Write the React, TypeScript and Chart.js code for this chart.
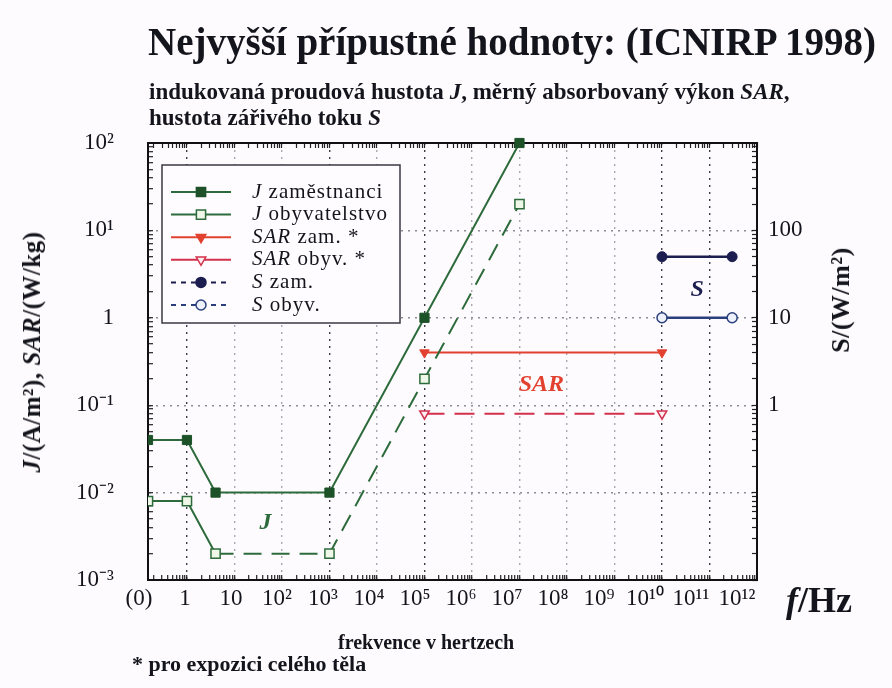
import React, { useEffect, useRef } from 'react';
import { Chart, registerables } from 'chart.js';

Chart.register(...registerables);

// ---------- data ----------
// frequencies in Hz; 0 stands for the "(0)" position at the left edge of the axis
const jFreq = [0, 1, 4, 1e3, 1e5, 1e7];
const jOccupational = [0.04, 0.04, 0.01, 0.01, 1, 100];
const jPublic = [0.008, 0.008, 0.002, 0.002, 0.2, 20];
const sarFreq = [1e5, 1e10];
const sarOccupational = [0.4, 0.4];
const sarPublic = [0.08, 0.08];
const sFreq = [1e10, 3e11];
const sOccupational = [50, 50];
const sPublic = [10, 10];

const legendLabels = ['J zaměstnanci', 'J obyvatelstvo', 'SAR zam. *', 'SAR obyv. *', 'S zam.', 'S obyv.'];
const xTickLabels = ['(0)', '1', '10', '10²', '10³', '10⁴', '10⁵', '10⁶', '10⁷', '10⁸', '10⁹', '10¹⁰', '10¹¹', '10¹²'];
const yLeftTickLabels = ['10⁻³', '10⁻²', '10⁻¹', '1', '10¹', '10²']; // decades -3 … 2
const yRightTickValues = [1, 10, 100];
const yRightTickLabels = ['1', '10', '100'];

const annotationTexts = ['J', 'SAR', 'S'];
const annotationFreqs = [45, 2.9e7, 5.5e10];
const annotationValues = [0.0045, 0.17, 21];
const annotationAxes = ['y', 'y', 'yS'];

// ---------- styling ----------
const FONT = '"Liberation Serif", "Times New Roman", serif';
const INK = '#14141c';
const GREEN = '#2e6b3c';
const GREEN_DARK = '#1d5229';
const RED = '#e2412f';
const CRIMSON = '#d3304d';
const NAVY = '#1c1e50';
const BLUE = '#2b3f7f';
const annotationColors = [GREEN, RED, NAVY];

const X_ZERO = -0.82; // log10(f) position used for "(0)"
const X_MAX = 12;
const toX = (f: number) => (f === 0 ? X_ZERO : Math.log10(f));
const pts = (fs: number[], vs: number[]) => fs.map((f, i) => ({ x: toX(f), y: vs[i] }));

function exponentTicks(min: number, max: number) {
  const out: { value: number }[] = [];
  for (let n = Math.floor(min); n <= Math.ceil(max); n++) {
    for (let k = 1; k <= 9; k++) {
      const v = n + Math.log10(k);
      if (v >= min - 1e-9 && v <= max + 1e-9) out.push({ value: v });
    }
  }
  return out;
}
function logTicks(min: number, max: number) {
  const out: { value: number }[] = [];
  for (let n = Math.round(Math.log10(min)); n <= Math.round(Math.log10(max)); n++) {
    for (let k = 1; k <= 9; k++) {
      const v = k * Math.pow(10, n);
      if (v >= min * (1 - 1e-9) && v <= max * (1 + 1e-9)) out.push({ value: v });
    }
  }
  return out;
}
const isInt = (v: number) => Math.abs(v - Math.round(v)) < 1e-6;
const isDecade = (v: number) => v > 0 && isInt(Math.log10(v));

const darkVertical = [0, 3, 5, 10, 11];

function drawMarker(ctx: CanvasRenderingContext2D, style: string, x: number, y: number, r: number, fill: string, stroke: string) {
  ctx.save();
  ctx.fillStyle = fill;
  ctx.strokeStyle = stroke;
  ctx.lineWidth = 1.5;
  ctx.setLineDash([]);
  ctx.beginPath();
  if (style === 'rect') {
    const s = r * Math.SQRT1_2;
    ctx.rect(x - s, y - s, 2 * s, 2 * s);
  } else if (style === 'triangle') {
    ctx.moveTo(x - r * 0.87, y - r * 0.5);
    ctx.lineTo(x + r * 0.87, y - r * 0.5);
    ctx.lineTo(x, y + r);
    ctx.closePath();
  } else {
    ctx.arc(x, y, r, 0, Math.PI * 2);
  }
  ctx.fill();
  ctx.stroke();
  ctx.restore();
}

const legendPlugin = {
  id: 'boxLegend',
  afterDraw(chart: any) {
    const { ctx, chartArea } = chart;
    const x0 = chartArea.left + 14;
    const y0 = chartArea.top + 22;
    const w = 238;
    const h = 158;
    ctx.save();
    ctx.fillStyle = '#fefcfe';
    ctx.fillRect(x0, y0, w, h);
    ctx.strokeStyle = '#3a3a44';
    ctx.lineWidth = 1.5;
    ctx.strokeRect(x0, y0, w, h);
    chart.data.datasets.forEach((ds: any, i: number) => {
      const y = y0 + 27 + i * 22.6;
      ctx.save();
      ctx.strokeStyle = ds.borderColor;
      ctx.lineWidth = 2;
      ctx.setLineDash(ds.borderDash || []);
      ctx.beginPath();
      ctx.moveTo(x0 + 9, y);
      ctx.lineTo(x0 + 69, y);
      ctx.stroke();
      ctx.restore();
      drawMarker(ctx, ds.pointStyle, x0 + 39, y, typeof ds.pointRadius === 'number' ? ds.pointRadius : 5, ds.pointBackgroundColor, ds.pointBorderColor);
      const label: string = ds.label;
      const sp = label.indexOf(' ');
      const sym = label.slice(0, sp);
      const rest = label.slice(sp);
      ctx.save();
      ctx.fillStyle = INK;
      ctx.textBaseline = 'middle';
      ctx.textAlign = 'left';
      (ctx as any).letterSpacing = '1px';
      ctx.font = `italic 21px ${FONT}`;
      ctx.fillText(sym, x0 + 90, y);
      const sw = ctx.measureText(sym).width;
      ctx.font = `21px ${FONT}`;
      ctx.fillText(rest, x0 + 90 + sw, y);
      ctx.restore();
    });
    ctx.restore();
  },
};

const annotationPlugin = {
  id: 'textNotes',
  afterDatasetsDraw(chart: any) {
    const { ctx, scales } = chart;
    ctx.save();
    ctx.textAlign = 'center';
    ctx.textBaseline = 'middle';
    ctx.font = `italic bold 24px ${FONT}`;
    annotationTexts.forEach((t, i) => {
      const x = scales.x.getPixelForValue(toX(annotationFreqs[i]));
      const y = scales[annotationAxes[i]].getPixelForValue(annotationValues[i]);
      ctx.fillStyle = annotationColors[i];
      ctx.fillText(t, x, y);
    });
    ctx.restore();
  },
};

const tickFont = { family: FONT, size: 23 };
const clip = { left: 0, top: 8, right: 8, bottom: 8 };

function buildConfig(): any {
  return {
    type: 'line',
    data: {
      datasets: [
        {
          label: legendLabels[0], data: pts(jFreq, jOccupational), xAxisID: 'x', yAxisID: 'y',
          borderColor: GREEN, borderWidth: 2, borderDash: [], pointStyle: 'rect', pointRadius: 6.5,
          pointBackgroundColor: GREEN_DARK, pointBorderColor: GREEN_DARK, pointBorderWidth: 1, clip,
        },
        {
          label: legendLabels[1], data: pts(jFreq, jPublic), xAxisID: 'x', yAxisID: 'y',
          borderColor: GREEN, borderWidth: 2, borderDash: [], pointStyle: 'rect', pointRadius: 6.5,
          pointBackgroundColor: '#eef7e8', pointBorderColor: GREEN, pointBorderWidth: 1.5, clip,
          segment: { borderDash: (c: any) => (c.p0DataIndex >= 2 ? [18, 10] : []) },
        },
        {
          label: legendLabels[2], data: pts(sarFreq, sarOccupational), xAxisID: 'x', yAxisID: 'y',
          borderColor: RED, borderWidth: 2, borderDash: [], pointStyle: 'triangle', pointRotation: 180, pointRadius: 5.5,
          pointBackgroundColor: RED, pointBorderColor: RED, pointBorderWidth: 1, clip,
        },
        {
          label: legendLabels[3], data: pts(sarFreq, sarPublic), xAxisID: 'x', yAxisID: 'y',
          borderColor: CRIMSON, borderWidth: 2, borderDash: [], pointStyle: 'triangle', pointRotation: 180, pointRadius: 5.5,
          pointBackgroundColor: '#fbeef0', pointBorderColor: CRIMSON, pointBorderWidth: 1.5, clip,
          segment: { borderDash: () => [20, 10] },
        },
        {
          label: legendLabels[4], data: pts(sFreq, sOccupational), xAxisID: 'x', yAxisID: 'yS',
          borderColor: NAVY, borderWidth: 2.5, borderDash: [5, 5], pointStyle: 'circle', pointRadius: 5,
          pointBackgroundColor: NAVY, pointBorderColor: NAVY, pointBorderWidth: 1, clip,
          segment: { borderDash: () => [] },
        },
        {
          label: legendLabels[5], data: pts(sFreq, sPublic), xAxisID: 'x', yAxisID: 'yS',
          borderColor: BLUE, borderWidth: 2.5, borderDash: [5, 5], pointStyle: 'circle', pointRadius: 5,
          pointBackgroundColor: '#eef0fa', pointBorderColor: BLUE, pointBorderWidth: 1.5, clip,
          segment: { borderDash: () => [] },
        },
      ],
    },
    options: {
      responsive: false,
      maintainAspectRatio: false,
      animation: false,
      layout: { padding: { left: 58, right: 75, top: 143, bottom: 68 } },
      plugins: { legend: { display: false }, tooltip: { enabled: false }, title: { display: false } },
      elements: { line: { tension: 0 } },
      scales: {
        x: {
          type: 'linear', position: 'bottom', min: X_ZERO, max: X_MAX, weight: 0,
          afterBuildTicks: (s: any) => { s.ticks = exponentTicks(X_ZERO, X_MAX); },
          afterFit: (s: any) => { s.height = 0; },
          ticks: { display: false, autoSkip: false },
          grid: {
            drawTicks: true, tickLength: -5, tickColor: '#222', tickWidth: 1.2, lineWidth: 1.4,
            color: (c: any) => {
              const v = c.tick ? c.tick.value : NaN;
              if (!isInt(v) || v <= X_ZERO || v >= X_MAX) return 'rgba(0,0,0,0)';
              return darkVertical.includes(Math.round(v)) ? '#3c3c44' : '#a8a8b0';
            },
          },
          border: { display: true, color: '#111', width: 2, dash: [2, 5] },
        },
        xl: {
          type: 'linear', position: 'bottom', min: 0.196, max: 13.435, weight: 1,
          afterBuildTicks: (s: any) => { s.ticks = xTickLabels.map((_, i) => ({ value: i })); },
          afterFit: (s: any) => { s.height = 40; },
          ticks: {
            autoSkip: false, maxRotation: 0, minRotation: 0, padding: 5, font: tickFont, color: INK,
            callback: (v: number) => xTickLabels[Math.round(v)] ?? '',
          },
          grid: { display: false, drawTicks: false },
          border: { display: false },
        },
        xt: {
          type: 'linear', position: 'top', min: X_ZERO, max: X_MAX,
          afterBuildTicks: (s: any) => { s.ticks = exponentTicks(X_ZERO, X_MAX); },
          afterFit: (s: any) => { s.height = 0; },
          ticks: { display: false, autoSkip: false },
          grid: { drawOnChartArea: false, drawTicks: true, tickLength: -5, tickColor: '#222', tickWidth: 1.2 },
          border: { display: true, color: '#111', width: 2 },
        },
        y: {
          type: 'logarithmic', position: 'left', min: 1e-3, max: 1e2,
          afterBuildTicks: (s: any) => { s.ticks = logTicks(1e-3, 1e2); },
          afterFit: (s: any) => { s.width = 90; },
          ticks: {
            autoSkip: false, padding: 39, font: tickFont, color: INK,
            callback: (v: number) => (isDecade(v) ? yLeftTickLabels[Math.round(Math.log10(v)) + 3] : ''),
          },
          grid: {
            drawTicks: true, tickLength: -5, tickColor: '#222', tickWidth: 1.2, lineWidth: 1.4,
            color: (c: any) => {
              const v = c.tick ? c.tick.value : NaN;
              return isDecade(v) && v > 1.5e-3 && v < 90 ? '#8c8c94' : 'rgba(0,0,0,0)';
            },
          },
          border: { display: true, color: '#111', width: 2, dash: [2, 5] },
        },
        yS: {
          type: 'logarithmic', position: 'right', min: 1e-2, max: 1e3,
          afterBuildTicks: (s: any) => { s.ticks = logTicks(1e-2, 1e3); },
          afterFit: (s: any) => { s.width = 60; },
          ticks: {
            autoSkip: false, padding: 16, font: tickFont, color: INK,
            callback: (v: number) => {
              const i = yRightTickValues.findIndex((t) => Math.abs(t - v) < 1e-6 * t);
              return i >= 0 ? yRightTickLabels[i] : '';
            },
          },
          grid: { drawOnChartArea: false, drawTicks: true, tickLength: -5, tickColor: '#222', tickWidth: 1.2 },
          border: { display: true, color: '#111', width: 2 },
        },
      },
    },
    plugins: [annotationPlugin, legendPlugin],
  };
}

export default function App() {
  const ref = useRef<HTMLCanvasElement>(null);
  useEffect(() => {
    if (!ref.current) return;
    const chart = new Chart(ref.current, buildConfig());
    return () => chart.destroy();
  }, []);

  const abs = (s: React.CSSProperties): React.CSSProperties => ({ position: 'absolute', whiteSpace: 'nowrap', ...s });
  return (
    <div style={{ position: 'absolute', left: 0, top: 0, width: 892, height: 688, overflow: 'hidden', background: '#fdfbfd', fontFamily: FONT, color: INK }}>
      <canvas ref={ref} width={892} height={688} style={{ position: 'absolute', left: 0, top: 0, width: 892, height: 688 }} />
      <div style={abs({ left: 148, top: 19, fontSize: 39, fontWeight: 'bold', lineHeight: '46px' })}>
        Nejvyšší přípustné hodnoty: (ICNIRP 1998)
      </div>
      <div style={abs({ left: 149, top: 79, fontSize: 23, fontWeight: 'bold', lineHeight: '26px' })}>
        indukovaná proudová hustota <i>J</i>, měrný absorbovaný výkon <i>SAR</i>,
        <br />
        hustota zářivého toku <i>S</i>
      </div>
      <div style={abs({ left: 32, top: 352, fontSize: 25, fontWeight: 'bold', letterSpacing: '0.5px', transform: 'translate(-50%, -50%) rotate(-90deg)' })}>
        <i>J</i>/(A/m²), <i>SAR</i>/(W/kg)
      </div>
      <div style={abs({ left: 841, top: 300, fontSize: 26, fontWeight: 'bold', letterSpacing: '0.5px', transform: 'translate(-50%, -50%) rotate(-90deg)' })}>
        S/(W/m²)
      </div>
      <div style={abs({ left: 786, top: 580, fontSize: 36, fontWeight: 'bold', lineHeight: '40px' })}>
        <i>f</i>/Hz
      </div>
      <div style={abs({ left: 338, top: 630, fontSize: 20, fontWeight: 'bold', lineHeight: '24px' })}>
        frekvence v hertzech
      </div>
      <div style={abs({ left: 132, top: 652, fontSize: 22, fontWeight: 'bold', lineHeight: '24px' })}>
        * pro expozici celého těla
      </div>
    </div>
  );
}
